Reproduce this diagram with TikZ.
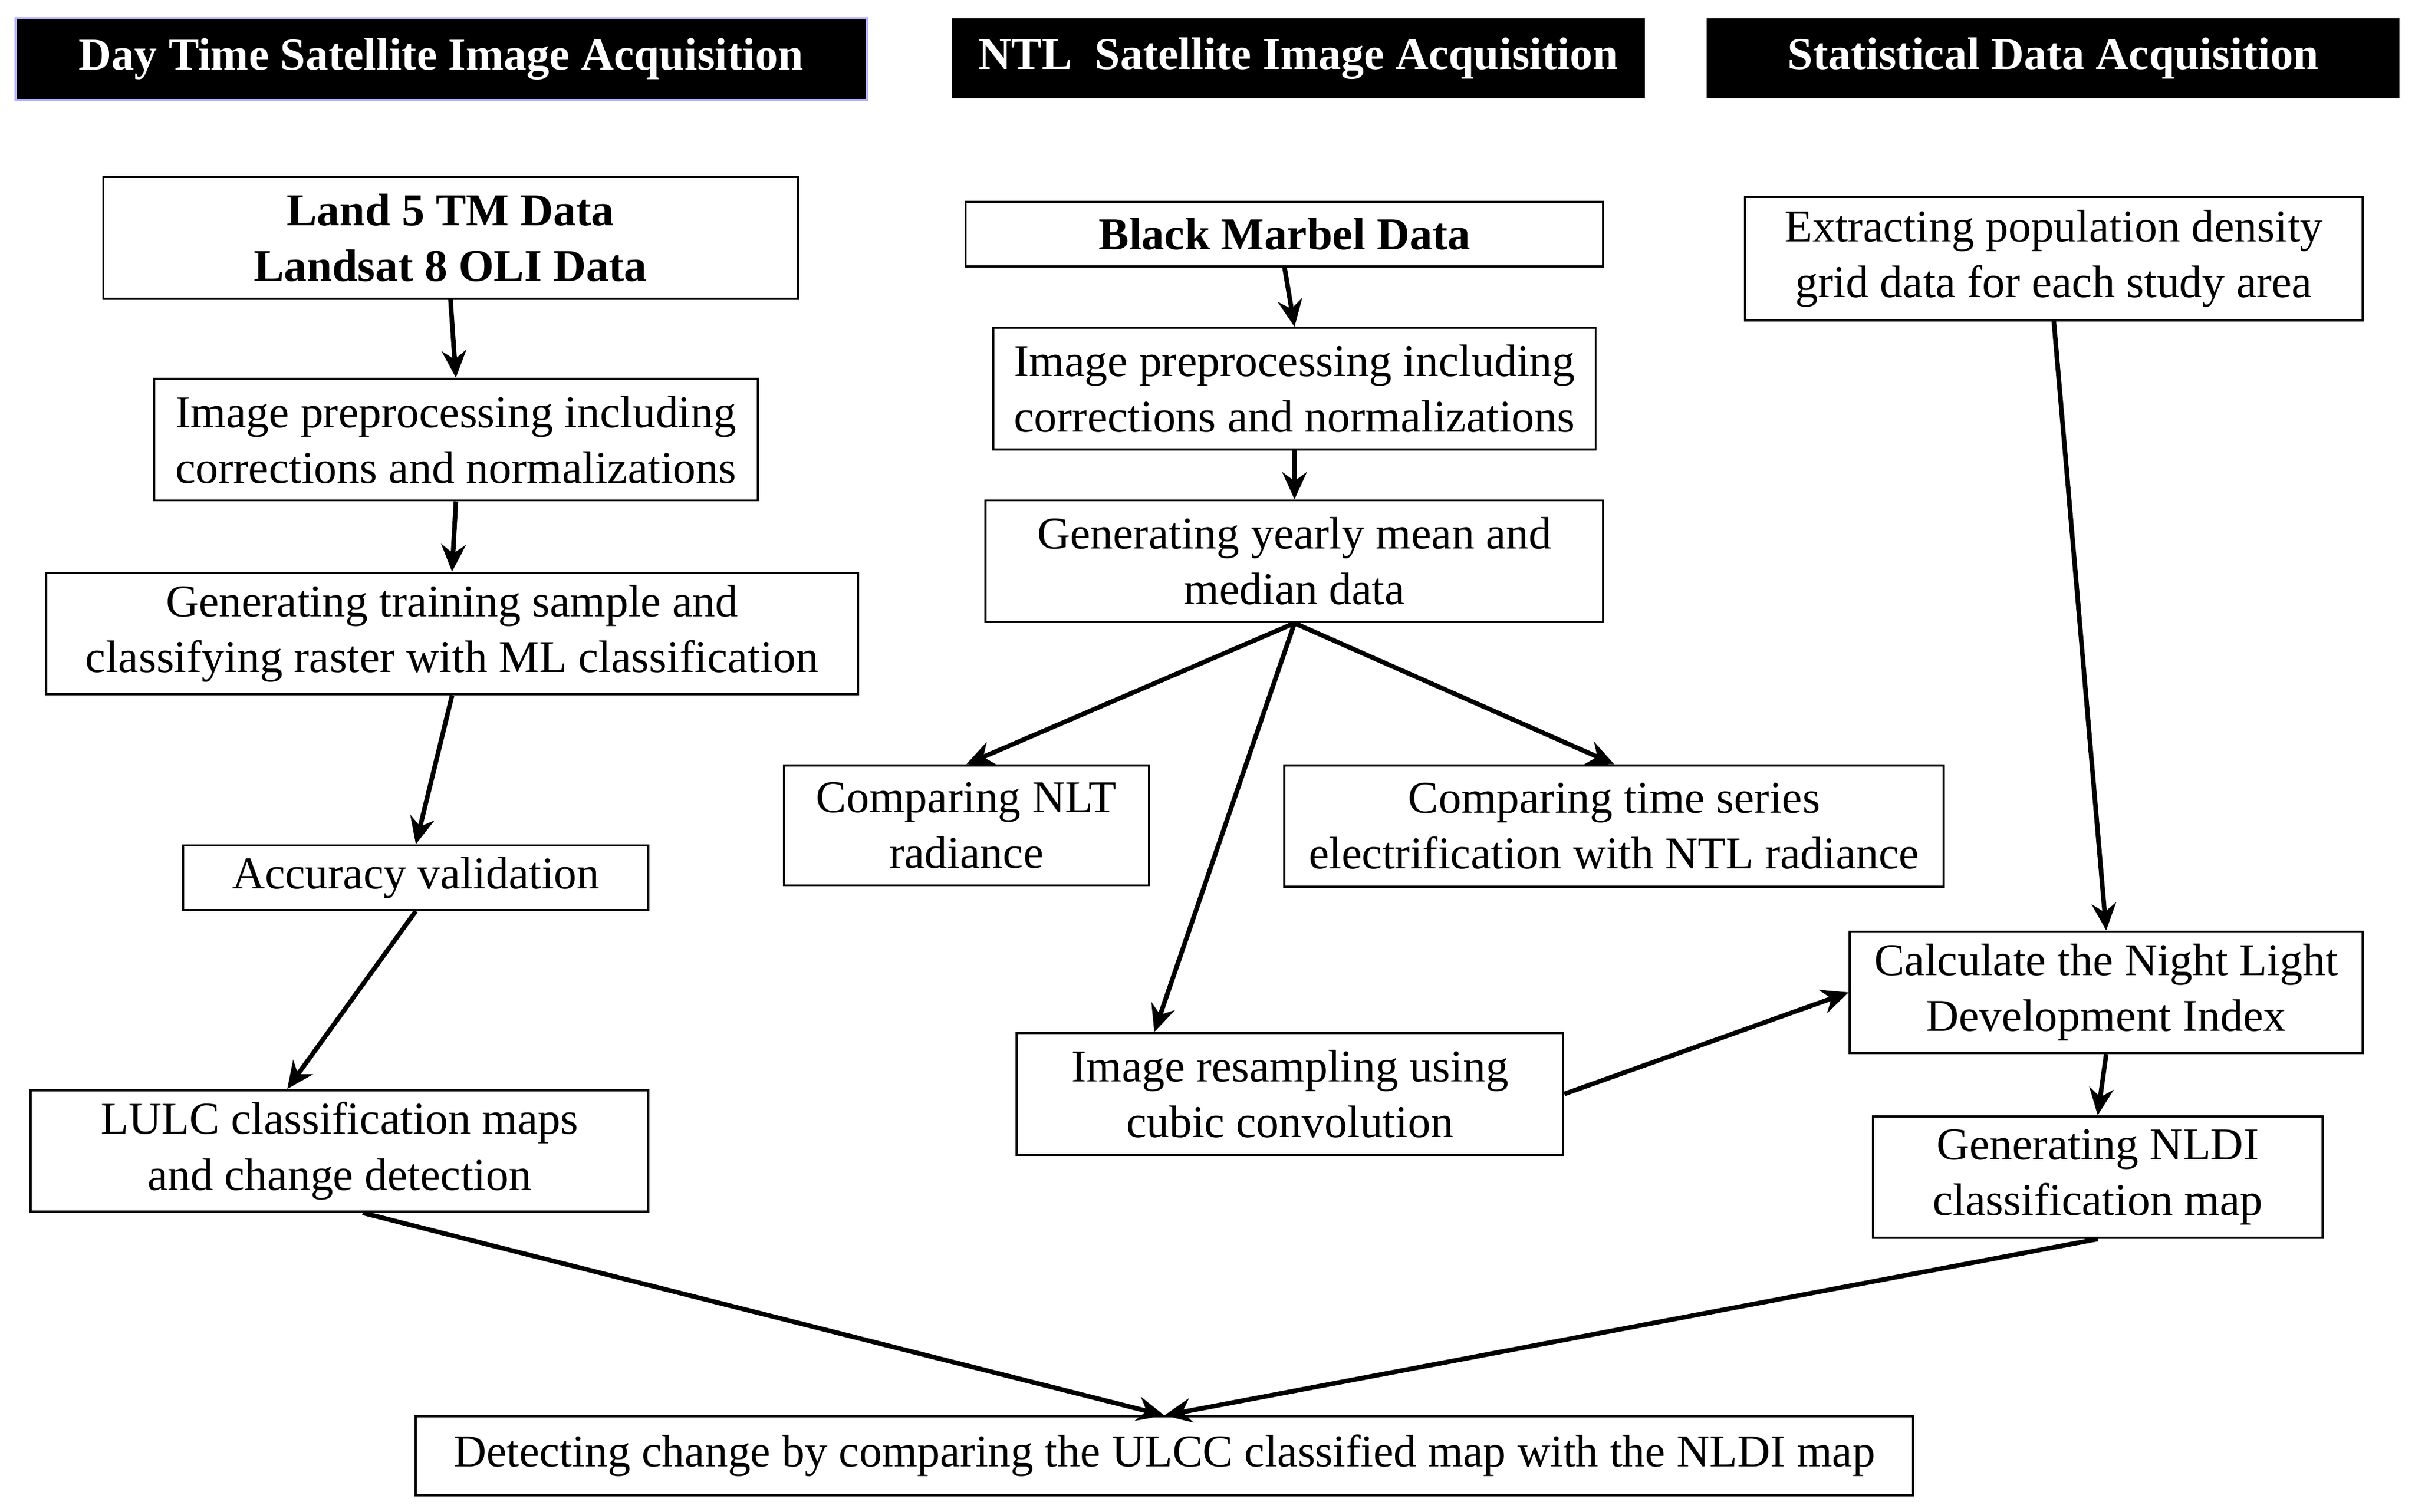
\documentclass[tikz,border=0pt]{standalone}
\usepackage{fontspec}
\setmainfont{Liberation Serif}
\usetikzlibrary{positioning,arrows.meta}

\begin{document}
\begin{tikzpicture}[%
    x=0.01cm, y=-0.01cm,
    font=\fontsize{8.4}{10.3}\selectfont,
    >={Stealth[length=5pt,width=4.5pt]},
    size/.style 2 args={minimum width=#1*0.01cm, minimum height=#2*0.01cm},
    stage/.style={%
      draw,
      line width=0.4pt,
      align=center,
      inner sep=0pt
    },
    head/.style={%
      fill=black,
      text=white,
      font=\fontsize{8.4}{10.3}\selectfont\bfseries,
      inner sep=0pt
    },
    flow/.style={->, line width=0.85pt}
  ]
    \useasboundingbox (0,0) rectangle (1568,982);

    % headers
    \node[head, draw=blue!30, size={553}{53}] (dayhead) at (286.5,38.5) {Day Time Satellite Image Acquisition};
    \node[head, size={450}{52}] (ntlhead) at (843,38) {NTL\ \ Satellite Image Acquisition};
    \node[head, size={450}{52}] (stathead) at (1333,38) {Statistical Data Acquisition};

    % day time column
    \node[stage, size={451}{79}, font=\fontsize{8.4}{10.3}\selectfont\bfseries] (landsat) at (292.5,154.5) {Land 5 TM Data\\Landsat 8 OLI Data};
    \node[stage, size={392}{79}] (dayprep) at (296,285.5) {Image preprocessing including\\corrections and normalizations};
    \node[stage, size={527}{79}] (training) at (293.5,411.5) {Generating training sample and\\classifying raster with ML classification};
    \node[stage, size={302}{42}] (accuracy) at (270,570) {Accuracy validation};
    \node[stage, size={401}{79}] (lulc) at (220.5,747.5) {LULC classification maps\\and change detection};

    % NTL column
    \node[stage, size={414}{42}, font=\fontsize{8.4}{10.3}\selectfont\bfseries] (marble) at (834,152) {Black Marbel Data};
    \node[stage, size={391}{79}] (ntlprep) at (840.5,252.5) {Image preprocessing including\\corrections and normalizations};
    \node[stage, size={401}{79}] (yearly) at (840.5,364.5) {Generating yearly mean and\\median data};
    \node[stage, size={237}{78}] (compnlt) at (627.5,536) {Comparing NLT\\radiance};
    \node[stage, size={428}{79}] (compts) at (1048,536.5) {Comparing time series\\electrification with NTL radiance};
    \node[stage, size={355}{79}] (resample) at (837.5,710.5) {Image resampling using\\cubic convolution};

    % statistical column
    \node[stage, size={401}{80}] (popgrid) at (1333.5,168) {Extracting population density\\grid data for each study area};
    \node[stage, size={333}{79}] (nldi) at (1367.5,644.5) {Calculate the Night Light\\Development Index};
    \node[stage, size={292}{79}] (nldimap) at (1362,764.5) {Generating NLDI\\classification map};

    \node[stage, size={972}{51}] (detect) at (756,945.5) {Detecting change by comparing the ULCC classified map with the NLDI map};

    \draw[flow] (landsat.south) -- (dayprep.north);
    \draw[flow] (dayprep.south) -- (training.north);
    \draw[flow] (training.south) -- (accuracy.north);
    \draw[flow] (accuracy.south) -- ([xshift=-0.34cm]lulc.north);
    \draw[flow] ([xshift=0.15cm]lulc.south) -- (detect.north);

    \draw[flow] (marble.south) -- (ntlprep.north);
    \draw[flow] (ntlprep.south) -- (yearly.north);
    \draw[flow] (yearly.south) -- (compnlt.north);
    \draw[flow] (yearly.south) -- (compts.north);
    \draw[flow] (yearly.south) -- ([xshift=-0.88cm]resample.north);
    \draw[flow] (resample.east) -- (nldi.west);

    \draw[flow] (popgrid.south) -- (nldi.north);
    \draw[flow] (nldi.south) -- (nldimap.north);
    \draw[flow] (nldimap.south) -- (detect.north);
  \end{tikzpicture}
\end{document}
